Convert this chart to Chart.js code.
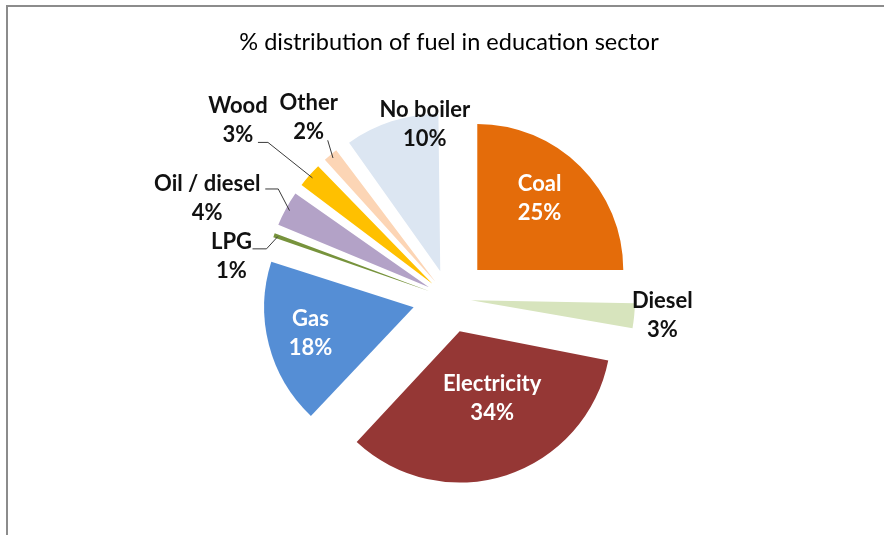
<!DOCTYPE html>
<html>
<head>
<meta charset="utf-8">
<script src="https://cdn.jsdelivr.net/npm/chart.js@4.4.0/dist/chart.umd.min.js"></script>
<style>
  html, body { margin: 0; padding: 0; background: #fff; overflow: hidden; }
  #wrap { position: relative; width: 884px; height: 535px; overflow: hidden; }
  #frame { position: absolute; left: 6px; top: 5px; width: 900px; height: 560px;
           border-top: 2px solid #8c8c8c; border-left: 2px solid #8c8c8c; pointer-events: none; }
</style>
</head>
<body>
<div id="wrap">
  <canvas id="fuelPie" width="884" height="535"></canvas>
  <div id="frame"></div>
</div>
<script>
// chart data
const categories = ['Coal', 'Diesel', 'Electricity', 'Gas', 'LPG', 'Oil / diesel', 'Wood', 'Other', 'No boiler'];
const shares = [25, 3, 34, 18, 1, 4, 3, 2, 10];
const sliceColors = ['#E46C0A', '#D7E4BD', '#953735', '#558ED5', '#77933C', '#B3A2C7', '#FFC000', '#FCD5B5', '#DCE6F2'];

// label placement: distance from the exploded slice corner (px), turn from mid angle (deg)
// hook = where the leader line leaves the label, relative to label centre
const labelLayout = [
  { inside: true, dist: 95, turn: -4 },
  { dist: 174, turn: -1 },
  { inside: true, dist: 69, turn: -8.5 },
  { inside: true, dist: 103, turn: 0 },
  { dist: 182, turn: -11, hook: [21, -8], elbow: 14 },
  { dist: 222, turn: -7.4, hook: [58, -9], elbow: 13 },
  { dist: 236, turn: -1.5, hook: [20, 22], elbow: 10 },
  { dist: 189, turn: 2.2, hook: [19, 23], elbow: 0 },
  { dist: 136, turn: 13 }
];

const EXPLODE = 40; // how far every slice is pulled out
const LABEL_FONT = 'bold 22px Lato';

// Chart.js v4 moves an arc by offset/4 * (1 + fix), so undo that to get an even gap
function sliceOffset(ctx) {
  const total = shares.reduce((a, b) => a + b, 0);
  const sweep = shares[ctx.dataIndex] / total * 2 * Math.PI;
  const fix = 1 - Math.sin(Math.min(Math.PI, sweep));
  return EXPLODE * 4 / (1 + fix);
}

const pieLabels = {
  id: 'pieLabels',
  afterDatasetsDraw(chart) {
    const ctx = chart.ctx;
    const arcs = chart.getDatasetMeta(0).data;
    ctx.save();
    ctx.font = LABEL_FONT;
    ctx.textAlign = 'center';
    ctx.textBaseline = 'middle';
    arcs.forEach((arc, i) => {
      const lay = labelLayout[i];
      const mid = (arc.startAngle + arc.endAngle) / 2;
      const ax = arc.x + Math.cos(mid) * EXPLODE;
      const ay = arc.y + Math.sin(mid) * EXPLODE;
      const a = mid + lay.turn * Math.PI / 180;
      const lx = ax + Math.cos(a) * lay.dist;
      const ly = ay + Math.sin(a) * lay.dist;

      if (lay.hook) {
        const hx = lx + lay.hook[0];
        const hy = ly + lay.hook[1];
        const ex = ax + Math.cos(mid) * (arc.outerRadius - 4);
        const ey = ay + Math.sin(mid) * (arc.outerRadius - 4);
        ctx.strokeStyle = '#3a3a3a';
        ctx.lineWidth = 1;
        ctx.beginPath();
        ctx.moveTo(hx, hy);
        ctx.lineTo(hx + lay.elbow, hy);
        ctx.lineTo(ex, ey);
        ctx.stroke();
      }

      ctx.fillStyle = lay.inside ? '#ffffff' : '#111111';
      ctx.fillText(categories[i], lx, ly - 14.5);
      ctx.fillText(shares[i] + '%', lx, ly + 14.5);
    });
    ctx.restore();
  }
};

new Chart(document.getElementById('fuelPie'), {
  type: 'pie',
  data: {
    labels: categories,
    datasets: [{
      data: shares,
      backgroundColor: sliceColors,
      borderWidth: 0,
      offset: sliceOffset,
      hoverOffset: 0
    }]
  },
  options: {
    responsive: false,
    animation: false,
    radius: 146,
    layout: { padding: { left: 14, right: 0, top: 0, bottom: 3 } },
    plugins: {
      legend: { display: false },
      tooltip: { enabled: false },
      title: {
        display: true,
        text: '% distribution of fuel in education sector',
        color: '#000',
        font: { family: 'Lato', size: 23.5, weight: 'normal', lineHeight: 1 },
        padding: { top: 31, bottom: 10 }
      }
    }
  },
  plugins: [pieLabels]
});
</script>
</body>
</html>
